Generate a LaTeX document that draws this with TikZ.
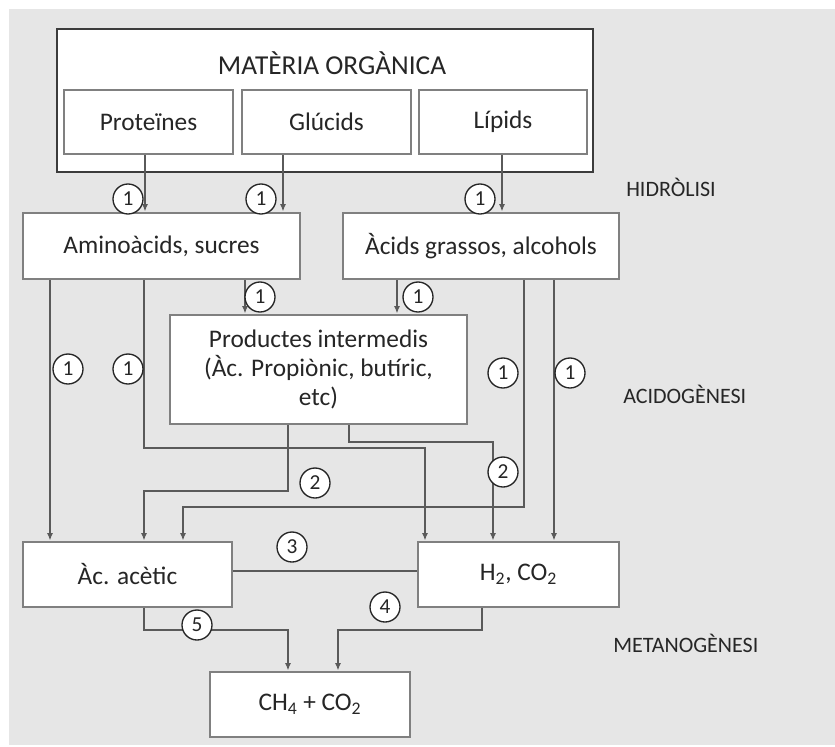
\documentclass[tikz,border=0pt]{standalone}
\usepackage{fontspec}
\setmainfont{Carlito}
\usetikzlibrary{arrows.meta}
\definecolor{bg}{HTML}{E6E6E6}
\definecolor{boxline}{HTML}{808080}
\definecolor{outline}{HTML}{3C3C3C}
\definecolor{wirecol}{HTML}{5A5A5A}
\definecolor{ink}{HTML}{262626}

\begin{document}
\begin{tikzpicture}[x=0.75pt,y=-0.75pt,
  box/.style={draw=boxline, line width=2.2pt, fill=white, inner sep=0pt,
    text=ink, font=\fontsize{19}{22}\selectfont, align=center},
  outerbox/.style={draw=outline, line width=2.2pt, fill=white, inner sep=0pt},
  num/.style={circle, draw=ink, line width=1pt, fill=white, minimum size=22.5pt,
    inner sep=0pt, text=ink, font=\fontsize{16}{16}\selectfont},
  wire/.style={draw=wirecol, line width=1.3pt},
  arr/.style={wire, -{Latex[length=5.5pt,width=4.5pt]}},
  stage/.style={text=ink, font=\fontsize{16.5}{18}\selectfont, anchor=west, inner sep=0pt}
]
% canvas
\useasboundingbox (0,0) rectangle (835,746);
\fill[white] (0,0) rectangle (835,746);
\fill[bg] (9,9) rectangle (835,745);

% organic matter and its three fractions
\node[outerbox, minimum width=402pt, minimum height=107.25pt] (mo) at (325,100.5) {};
\node[text=ink, font=\fontsize{20.5}{22}\selectfont] (title) at (332,63) {MATÈRIA ORGÀNICA};
\node[box, minimum width=126.75pt, minimum height=48pt] (prot) at (148.5,122) {Proteïnes};
\node[box, minimum width=126.75pt, minimum height=48pt] (gluc) at (326.5,122) {Glúcids};
\node[box, minimum width=126pt, minimum height=48pt] (lip) at (503,122) {Lípids};

% products of hydrolysis
\node[box, minimum width=207.75pt, minimum height=49.5pt] (amino) at (161.5,246) {Aminoàcids, sucres};
\node[box, minimum width=207pt, minimum height=49.5pt] (acids) at (481,246) {Àcids grassos, alcohols};

% intermediate products
\node[box, minimum width=222.75pt, minimum height=81.75pt] (prod) at (318.5,369.5)
  {Productes intermedis\\(Àc. Propiònic, butíric,\\etc)};

% acetic acid, hydrogen, biogas
\node[box, minimum width=156.75pt, minimum height=48.75pt] (acetic) at (127.5,574.5) {Àc. acètic};
\node[box, minimum width=150.75pt, minimum height=48.75pt] (h2) at (518.5,574.5) {H\textsubscript{2}, CO\textsubscript{2}};
\node[box, minimum width=150pt, minimum height=48.75pt] (ch4) at (310,704.5) {CH\textsubscript{4} + CO\textsubscript{2}};

% stage names
\node[stage] (hid) at (626,187) {HIDRÒLISI};
\node[stage] (acid) at (623,394) {ACIDOGÈNESI};
\node[stage] (meta) at (613,643) {METANOGÈNESI};

% hydrolysis
\draw[arr] (prot.south -| 145,0) -- (amino.north -| 145,0);
\draw[arr] (gluc.south -| 283,0) -- (amino.north -| 283,0);
\draw[arr] (lip.south -| 502,0) -- (acids.north -| 502,0);

% acidogenesis
\draw[arr] (amino.south -| 245,0) -- (prod.north -| 245,0);
\draw[arr] (acids.south -| 397,0) -- (prod.north -| 397,0);
\draw[arr] (amino.south -| 50,0) -- (acetic.north -| 50,0);
\draw[arr] (amino.south -| 144,0) |- (425,448) -- (h2.north -| 425,0);
\draw[arr] (acids.south -| 524,0) |- (183,507) -- (acetic.north -| 183,0);
\draw[arr] (acids.south -| 554,0) -- (h2.north -| 554,0);
\draw[arr] (prod.south -| 288,0) |- (144,491) -- (acetic.north -| 144,0);
\draw[arr] (prod.south -| 349,0) |- (493,442) -- (h2.north -| 493,0);

% methanogenesis
\draw[wire] (acetic.east |- 0,571) -- (h2.west |- 0,571);
\draw[arr] (acetic.south -| 144,0) |- (288,630) -- (ch4.north -| 288,0);
\draw[arr] (h2.south -| 482,0) |- (338,630) -- (ch4.north -| 338,0);

% reaction numbers
\node[num] (n1) at (128,199) {1};
\node[num] (n2) at (261,199) {1};
\node[num] (n3) at (480,199) {1};
\node[num] (n4) at (260,297) {1};
\node[num] (n5) at (418,297) {1};
\node[num] (n6) at (68,369) {1};
\node[num] (n7) at (128,369) {1};
\node[num] (n8) at (503,373) {1};
\node[num] (n9) at (570,373) {1};
\node[num] (n10) at (315,483) {2};
\node[num] (n11) at (503,472) {2};
\node[num] (n12) at (292,547) {3};
\node[num] (n13) at (385,607) {4};
\node[num] (n14) at (197,625) {5};
\end{tikzpicture}
\end{document}
